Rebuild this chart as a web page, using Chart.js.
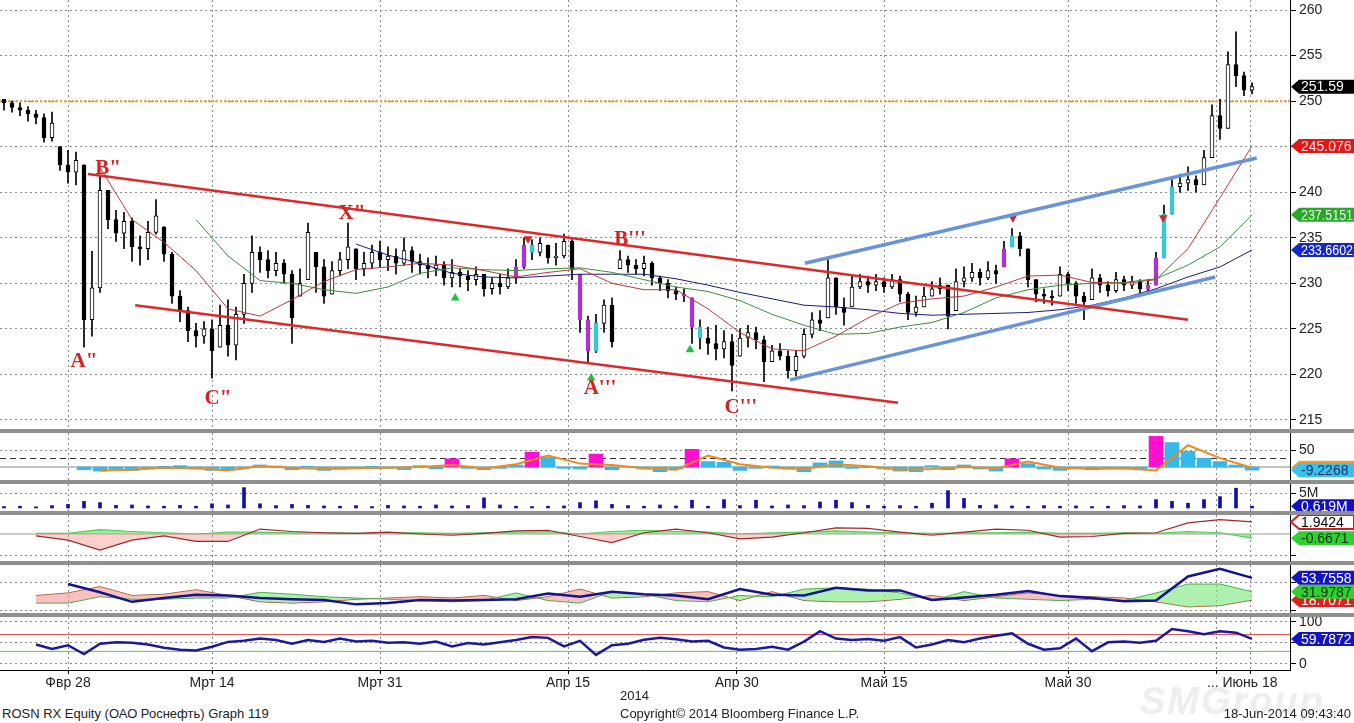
<!DOCTYPE html>
<html>
<head>
<meta charset="utf-8">
<script src="https://cdn.jsdelivr.net/npm/chart.js@4.4.1/dist/chart.umd.min.js"></script>
<style>
  body { margin: 0; background: #fff; width: 1354px; height: 723px; overflow: hidden; position: relative;
         font-family: "Liberation Sans", Arial, sans-serif; }
  .pane { position: absolute; left: 0; width: 1354px; }
  .sep { position: absolute; left: 0; width: 1354px; height: 4px; background: #8f8f8f; }
  .txt { position: absolute; font-size: 13px; color: #222; white-space: nowrap; }
  .wm { position: absolute; left: 1140px; top: 680px; font: italic bold 38px "Liberation Sans", Arial, sans-serif;
        color: #eeeeee; letter-spacing: 2px; }
</style>
</head>
<body>
<div class="pane" style="top:0;height:429px"><canvas id="cMain"></canvas></div>
<div class="sep" style="top:429px"></div>
<div class="pane" style="top:433px;height:47px"><canvas id="cOsc"></canvas></div>
<div class="sep" style="top:480px"></div>
<div class="pane" style="top:484px;height:27px"><canvas id="cVol"></canvas></div>
<div class="sep" style="top:511px"></div>
<div class="pane" style="top:515px;height:46px"><canvas id="cMacd"></canvas></div>
<div class="sep" style="top:561px"></div>
<div class="pane" style="top:565px;height:48px"><canvas id="cDmi"></canvas></div>
<div class="sep" style="top:613px"></div>
<div class="pane" style="top:617px;height:83px"><canvas id="cRsi"></canvas></div>
<div class="wm">SMGroup</div>
<div class="txt" style="left:620px;top:688px">2014</div>
<div class="txt" style="left:2px;top:706px">ROSN RX Equity (ОАО Роснефть) Graph 119</div>
<div class="txt" style="left:620px;top:706px">Copyright© 2014 Bloomberg Finance L.P.</div>
<div class="txt" style="right:3px;top:706px">18-Jun-2014 09:43:40</div>
<script>
const FONT = '"Liberation Sans", Arial, sans-serif';
Chart.defaults.font.family = FONT;
Chart.defaults.color = '#222';

// time axis: one unit = one bar
const xTickIdx = [8, 26, 47, 70.5, 91.6, 110, 133, 151.6, 155.75];
const xTickLabels = ['Фвр 28', 'Мрт 14', 'Мрт 31', 'Апр 15', 'Апр 30', 'Май 15', 'Май 30', '',
  '... Июнь 18\u00a0\u00a0\u00a0\u00a0'];

// price bars
const closes = [
  249.8, 249.3, 249.0, 248.6, 248.2, 246.0, 247.6, 243.0, 242.2, 243.5,
  226.0, 229.5, 240.2, 237.0, 235.5, 236.8, 234.0, 233.8, 235.6, 237.4,
  233.2, 228.6, 227.0, 224.8, 224.2, 225.0, 222.6, 225.4, 223.2, 226.6,
  230.0, 233.4, 232.6, 231.4, 232.2, 231.0, 226.2, 230.0, 235.6, 231.8,
  228.6, 231.4, 232.6, 234.0, 231.6, 232.2, 233.4, 232.6, 233.0, 232.2,
  233.6, 232.4, 232.0, 231.6, 232.0, 230.6, 231.2, 230.8, 230.4, 231.0,
  229.4, 230.0, 229.6, 230.6, 231.8, 234.2, 233.4, 234.4, 232.8, 233.0,
  234.6, 231.6, 226.0, 222.6, 225.6, 227.6, 223.6, 232.6, 232.0, 231.6,
  232.2, 230.6, 230.0, 229.2, 228.8, 228.6, 225.2, 224.0, 223.4, 222.8,
  223.6, 221.0, 224.0, 224.6, 223.8, 221.4, 222.6, 222.0, 220.4, 222.0,
  224.4, 226.0, 225.6, 230.6, 227.4, 226.8, 229.6, 230.2, 229.8, 230.2,
  229.6, 230.4, 228.8, 226.8, 227.4, 228.6, 229.4, 229.8, 226.4, 230.2,
  230.6, 231.2, 230.6, 231.4, 231.0, 233.8, 235.2, 233.8, 230.4, 228.8,
  228.6, 228.4, 231.0, 230.0, 228.6, 228.0, 230.6, 229.8, 229.2, 230.4,
  229.8, 230.2, 229.4, 229.8, 232.8, 237.6, 240.6, 241.0, 241.4, 240.8,
  243.8, 248.4, 247.0, 254.0, 252.8, 251.2, 251.59
];
const highs = [
  250.2, 250.0, 249.8, 249.4, 249.0, 248.6, 248.8, 245.0, 244.6, 244.4,
  243.0, 233.5, 241.8, 240.2, 238.0, 237.8, 237.2, 235.2, 236.8, 239.2,
  236.2, 233.4, 229.2, 227.4, 225.6, 225.8, 226.0, 227.6, 228.2, 227.4,
  231.0, 235.2, 234.0, 233.6, 233.4, 232.6, 231.4, 231.6, 236.6, 233.4,
  232.6, 232.4, 233.4, 236.6, 233.8, 233.4, 234.2, 234.6, 234.0, 233.8,
  235.0, 234.0, 233.2, 232.8, 233.0, 232.4, 232.6, 231.6, 231.4, 231.8,
  231.0, 230.6, 231.0, 231.6, 232.6, 235.0, 234.8, 235.0, 234.2, 234.4,
  235.4, 234.8, 231.0, 226.4, 226.6, 228.2, 228.4, 233.6, 233.0, 232.6,
  233.0, 232.4, 230.8, 230.4, 229.6, 229.4, 228.4, 226.0, 225.2, 225.4,
  224.8, 224.4, 225.0, 225.4, 225.2, 224.2, 223.2, 223.4, 222.6, 222.6,
  225.0, 226.8, 227.0, 232.6, 230.6, 228.4, 230.8, 231.0, 230.8, 231.0,
  230.6, 231.0, 230.8, 229.0, 228.6, 229.6, 230.2, 230.6, 229.8, 231.6,
  231.8, 232.2, 231.6, 232.4, 232.0, 234.6, 236.0, 235.6, 233.8, 230.4,
  229.4, 229.2, 231.8, 231.2, 230.2, 229.0, 231.6, 231.0, 230.2, 231.2,
  230.8, 230.8, 230.4, 230.4, 233.4, 238.6, 241.4, 242.0, 242.8, 241.8,
  244.6, 249.6, 250.2, 255.4, 257.6, 253.2, 252.0
];
const lows = [
  249.0, 248.8, 248.4, 247.8, 247.5, 245.5, 245.6, 242.4, 241.0, 240.8,
  223.0, 224.2, 229.0, 236.0, 234.6, 233.8, 232.4, 232.0, 232.6, 235.4,
  232.4, 227.8, 225.8, 223.6, 223.0, 223.4, 219.6, 223.0, 222.0, 221.6,
  225.6, 229.0, 231.2, 230.6, 230.8, 230.0, 223.4, 228.6, 230.4, 229.0,
  227.8, 228.8, 230.8, 231.6, 230.4, 230.8, 231.6, 231.8, 231.4, 231.0,
  232.0, 231.2, 231.0, 230.6, 230.8, 229.8, 229.6, 229.6, 229.2, 229.8,
  228.6, 228.8, 228.8, 229.4, 230.0, 231.6, 232.6, 233.0, 232.2, 232.0,
  232.8, 230.4, 224.6, 221.2, 222.4, 224.6, 223.0, 231.6, 231.2, 231.0,
  230.8, 229.8, 229.2, 228.4, 228.2, 228.0, 223.4, 222.8, 222.2, 221.6,
  221.8, 218.2, 222.0, 223.0, 222.8, 219.2, 221.4, 221.6, 219.6, 219.8,
  221.8, 224.0, 224.8, 226.2, 226.6, 225.4, 227.4, 229.4, 229.0, 229.2,
  229.0, 229.4, 228.0, 226.0, 226.4, 227.4, 228.6, 228.8, 225.0, 227.0,
  229.6, 230.2, 229.8, 230.4, 230.0, 231.8, 234.0, 233.0, 229.6, 228.0,
  227.8, 227.6, 228.6, 229.2, 227.8, 226.0, 228.2, 229.0, 228.6, 229.0,
  229.2, 229.4, 228.8, 229.2, 229.8, 232.8, 237.6, 240.0, 240.2, 240.0,
  240.8, 243.8, 245.8, 247.0, 251.6, 250.6, 250.8
];
const purpleBars = [64, 65, 72, 73, 85, 86, 125, 143, 144];
const cyanBars = [66, 74, 87, 126, 145, 146];

// moving averages, one value every 4 bars
const MA_STEP = 4;
const maRed = [null, null, null, 242.7, 237.0, 234.5, 231.4, 227.2, 226.4, 228.2,
  230.2, 231.5, 231.8, 232.2, 232.0, 231.4, 230.7, 231.2, 231.6, 230.0,
  229.3, 229.3, 227.2, 224.6, 222.8, 222.6, 224.2, 226.2, 227.8, 228.3,
  228.6, 229.6, 230.8, 230.9, 230.1, 230.0, 230.4, 233.8, 239.4, 245.076];
const maGreen = [null, null, null, null, null, null, 237.0, 233.0, 230.3, 230.0,
  229.3, 228.9, 229.6, 231.1, 231.7, 231.5, 231.4, 231.6, 231.7, 231.2,
  230.4, 229.6, 229.1, 228.1, 226.6, 225.4, 224.4, 224.5, 225.2, 225.7,
  226.8, 228.4, 229.3, 229.8, 230.0, 230.1, 230.5, 232.0, 234.0, 237.5151];
const maBlue = [null, null, null, null, null, null, null, null, null, null,
  null, 234.3, 233.1, 232.2, 231.1, 230.7, 230.6, 230.8, 231.0, 231.0,
  231.0, 230.5, 229.8, 229.0, 228.3, 227.6, 227.4, 227.1, 226.7, 226.5,
  226.6, 226.7, 226.8, 227.1, 227.6, 228.4, 229.4, 230.7, 231.8, 233.6602];

// hand-drawn channel lines [bar, price]
const channelTop = [[10.5, 242.0], [148, 226.0]];
const channelBottom = [[16.4, 227.6], [111.75, 216.9]];
const riseTop = [[100.1, 232.2], [156.6, 243.75]];
const riseBottom = [[98.25, 219.4], [151.4, 230.7]];
const resistance = 250;

// wave labels
const waveText = ['A"', 'B"', 'C"', 'X"', "A'''", "B'''", "C'''"];
const waveBar = [10, 13, 26.75, 43.5, 74.5, 78.25, 92.1];
const wavePrice = [221.4, 242.6, 217.4, 237.7, 218.5, 234.8, 216.4];

// signal markers [bar, price]
const sellMarks = [[65.5, 234.9], [126.1, 237.2], [144.9, 237.2]];
const buyMarks = [[56.4, 228.4], [73.4, 219.6], [85.75, 222.7]];

// oscillator panel, every 2 bars (histogram) / 4 bars (signal)
const OSC_STEP = 2;
const oscHist = [null, null, null, null, null, -8, -12, -6, -10, -4,
  2, 4, -6, -10, -8, -2, 6, 3, -8, 2,
  -10, -6, -3, 2, -4, -8, 4, -5, 24, -4,
  -8, -4, 6, 44, 28, -4, -6, 38, -8, 2,
  -6, -14, -6, 52, 16, 14, -10, -4, 3, -6,
  -14, 12, 18, -4, -2, -6, -12, -14, 4, -8,
  6, -6, -12, 24, 10, -6, -10, -4, -8, -2,
  -6, -8, 90, 72, 46, 26, 16, 6, -9.2268];
const oscSpikes = [28, 33, 37, 43, 63, 72];
const oscSignal = [null, null, null, -10, -8, -2, -4, -10, 2, -2,
  -6, -4, -2, 0, 6, -4, 8, 34, 10, 6,
  -4, -8, 34, 8, -2, -6, 8, 2, -8, -6,
  0, -4, 16, -2, -6, -4, -10, 64, 26, -2];
const oscLevel = 25;

// volume, millions, every 2 bars
const volume = [0.5, 0.6, 0.4, 0.8, 1.2, 2.2, 1.8, 0.9, 1.0, 0.7,
  0.6, 0.9, 0.6, 1.4, 1.0, 6.8, 1.4, 0.8, 1.2, 0.9,
  0.7, 0.6, 0.8, 0.5, 0.9, 0.7, 0.6, 1.0, 0.7, 0.8,
  3.4, 1.0, 0.6, 0.5, 0.6, 0.7, 1.8, 2.4, 1.2, 0.8,
  0.6, 1.0, 0.7, 2.6, 0.6, 2.8, 0.8, 2.6, 0.7, 1.0,
  0.8, 2.0, 2.6, 1.8, 0.9, 0.6, 0.8, 0.6, 1.6, 5.8,
  3.2, 0.9, 1.0, 0.7, 0.6, 0.8, 0.6, 0.7, 0.5, 0.6,
  0.8, 0.7, 2.8, 2.2, 1.6, 2.8, 3.8, 6.6, 0.619];

// MACD panel, every 4 bars
const macdLine = [null, -0.3, -1.0, -2.6, -1.0, -0.3, -1.2, -1.2, 0.8, 0.4,
  0.2, 0.1, 0.3, 0.0, -0.2, 0.1, 0.5, 0.6, -0.4, -1.4,
  0.2, 0.8, 0.2, -0.8, -0.5, 0.2, 1.0, 0.9, 0.3, -0.2,
  0.3, 0.8, 0.6, -0.5, -0.4, 0.1, 0.2, 1.8, 2.3, 1.9424];
const macdSignal = [null, 0.1, 0.1, 0.7, 0.4, 0.2, 0.0, 0.3, 0.3, 0.2,
  0.2, 0.1, 0.2, 0.2, 0.1, 0.2, 0.3, 0.4, 0.0, 0.4,
  0.6, 0.4, 0.3, 0.0, 0.2, 0.3, 0.5, 0.3, 0.2, 0.1,
  0.2, 0.2, 0.3, 0.1, 0.1, 0.2, 0.1, 0.4, 0.2, -0.6671];

// DMI panel, every 4 bars
const adx = [null, null, 44, 31, 16, 22, 27, 26, 22, 20,
  19, 12, 14, 19, 18, 19, 20, 29, 24, 32,
  28, 26, 20, 36, 27, 26, 38, 34, 34, 19,
  23, 27, 33, 25, 22, 17, 18, 56, 68, 53.7558];
const diPlus = [null, 14, 14, 24, 20, 20, 22, 22, 31, 28,
  24, 22, 20, 18, 16, 18, 30, 18, 14, 32,
  28, 18, 16, 26, 24, 36, 38, 36, 30, 18,
  32, 22, 20, 18, 20, 18, 30, 44, 44, 31.9787];
const diMinus = [null, 26, 30, 40, 26, 28, 35, 26, 16, 14,
  16, 20, 22, 24, 22, 26, 18, 24, 36, 22,
  24, 30, 32, 18, 32, 18, 16, 16, 20, 26,
  18, 24, 30, 26, 24, 22, 16, 8, 10, 18.7071];

// RSI panel, every 2 bars
const rsi = [null, null, 46.4, 35.8, 44.6, 23.5, 48.2, 51.7, 50.8, 46.4,
  38.5, 34.1, 32.3, 41.1, 52.6, 55.2, 60.5, 57, 48.2, 57,
  52.6, 60.5, 53.4, 55.2, 50.8, 51.7, 48.2, 53.4, 42, 49.9,
  46.4, 51.7, 57, 64, 62.2, 42, 55.2, 21.8, 44.6, 48.2,
  57.8, 62.2, 58.7, 53.4, 55.2, 39.4, 34.1, 35.8, 41.1, 34.1,
  53.4, 78, 60.5, 57, 59.6, 55.2, 64, 39.4, 46.4, 57,
  51.7, 60.5, 67.5, 72.8, 48.2, 34.1, 37.6, 60.5, 30.6, 51.7,
  53.4, 50.8, 55.2, 83.4, 78, 71, 78, 74.6, 59.7872];
const rsiHigh = 70, rsiLow = 30;

const X_MIN = -0.5, X_MAX = 160.75;
const last = a => a[a.length - 1];
const pts = (arr, step) => arr.map((v, k) => ({ x: k * step, y: v }));
const pairs = arr => arr.map(p => ({ x: p[0], y: p[1] }));
const opens = closes.map((c, i) => {
  const p = i ? closes[i - 1] : highs[0];
  return Math.min(Math.max(p, lows[i]), highs[i]);
});

function hline(v, color, width, dash) {
  return { type: 'line', data: [{ x: X_MIN, y: v }, { x: X_MAX, y: v }], borderColor: color,
    borderWidth: width, borderDash: dash || [], pointRadius: 0, fill: false };
}
function line(data, color, width, extra) {
  return Object.assign({ type: 'line', data, borderColor: color, borderWidth: width,
    pointRadius: 0, fill: false, tension: 0 }, extra || {});
}

function xScale(show) {
  return {
    type: 'linear', min: X_MIN, max: X_MAX, offset: false,
    afterBuildTicks: s => { s.ticks = xTickIdx.map(v => ({ value: v })); },
    afterFit: s => { s.height = show ? 30 : 0; s.paddingLeft = 0; s.paddingRight = 0; },
    grid: { color: '#8a8a8a', lineWidth: 1, offset: false, drawTicks: show, tickLength: 4, tickColor: '#000' },
    border: { display: show, color: '#000', dash: [2, 3] },
    ticks: { display: show, autoSkip: false, maxRotation: 0, padding: 1, color: '#222',
      font: { size: 14 }, callback: (v, i) => xTickLabels[i] }
  };
}
function yScale(min, max, tickVals, label) {
  return {
    type: 'linear', position: 'right', min, max,
    afterBuildTicks: s => { s.ticks = tickVals.map(v => ({ value: v })); },
    afterFit: s => { s.width = 64; s.paddingTop = 0; s.paddingBottom = 0; },
    grid: { color: '#8a8a8a', lineWidth: 1, tickLength: 6, tickColor: '#000' },
    border: { display: true, color: '#000', width: 1, dash: [2, 3] },
    ticks: { padding: 3, color: '#222', font: { size: 14 }, callback: label }
  };
}

function tagPlugin(tags) {
  return {
    id: 'tags',
    afterDraw(chart) {
      const ctx = chart.ctx, ys = chart.scales.y;
      const x0 = chart.chartArea.right + 1, x1 = chart.width;
      tags.forEach(t => {
        const cy = ys.getPixelForValue(t.value);
        ctx.save();
        ctx.beginPath();
        ctx.moveTo(x0, cy);
        ctx.lineTo(x0 + 8, cy - 7);
        ctx.lineTo(x1, cy - 7);
        ctx.lineTo(x1, cy + 7);
        ctx.lineTo(x0 + 8, cy + 7);
        ctx.closePath();
        ctx.fillStyle = t.bg;
        ctx.fill();
        if (t.edge) { ctx.strokeStyle = t.edge; ctx.lineWidth = 2; ctx.stroke(); }
        ctx.fillStyle = t.fg;
        ctx.font = '14px ' + FONT;
        ctx.textBaseline = 'middle';
        const txt = t.text || String(t.value);
        const room = x1 - x0 - 11;
        const w = ctx.measureText(txt).width;
        ctx.translate(x0 + 10, cy + 1);
        if (w > room) ctx.scale(room / w, 1);
        ctx.fillText(txt, 0, 0);
        ctx.restore();
      });
    }
  };
}

const wavePlugin = {
  id: 'waves',
  afterDatasetsDraw(chart) {
    const ctx = chart.ctx, xs = chart.scales.x, ys = chart.scales.y;
    ctx.save();
    ctx.font = 'bold 21px "Liberation Serif", "Times New Roman", serif';
    ctx.fillStyle = '#d42222';
    ctx.textAlign = 'center';
    ctx.textBaseline = 'middle';
    waveText.forEach((t, i) => ctx.fillText(t, xs.getPixelForValue(waveBar[i]), ys.getPixelForValue(wavePrice[i])));
    ctx.restore();
  }
};

const base = { responsive: true, maintainAspectRatio: false, animation: false,
  layout: { padding: 0, autoPadding: false },
  plugins: { legend: { display: false }, tooltip: { enabled: false } } };

// main price panel
new Chart(document.getElementById('cMain'), {
  type: 'bar',
  data: { datasets: [
    line(pairs(channelTop), '#dc2a2a', 2.5),
    line(pairs(channelBottom), '#dc2a2a', 2.5),
    line(pairs(riseTop), '#6a94d8', 3.5),
    line(pairs(riseBottom), '#6a94d8', 3.5),
    line(pairs(sellMarks), '#e02020', 0, { showLine: false, pointStyle: 'triangle', pointRotation: 180,
      pointRadius: 5, pointBackgroundColor: '#e02020', pointBorderWidth: 0 }),
    line(pairs(buyMarks), '#22c040', 0, { showLine: false, pointStyle: 'triangle',
      pointRadius: 5, pointBackgroundColor: '#22c040', pointBorderWidth: 0 }),
    line(pts(maRed, MA_STEP), '#b83a3a', 1),
    line(pts(maGreen, MA_STEP), '#3c8c3c', 1),
    line(pts(maBlue, MA_STEP), '#1c1c78', 1),
    {
      type: 'bar', grouped: false, barThickness: 4, borderWidth: 1, borderSkipped: false,
      data: closes.map((c, i) => ({ x: i, y: [opens[i], c] })),
      backgroundColor: ctx => {
        const i = ctx.dataIndex;
        if (purpleBars.includes(i)) return '#b030d0';
        if (cyanBars.includes(i)) return '#30d0d8';
        return closes[i] >= opens[i] ? '#ffffff' : '#000000';
      },
      borderColor: ctx => {
        const i = ctx.dataIndex;
        if (purpleBars.includes(i)) return '#b030d0';
        if (cyanBars.includes(i)) return '#30c0c8';
        return '#000';
      }
    },
    {
      type: 'bar', grouped: false, barThickness: 1, borderWidth: 0, backgroundColor: '#000',
      data: closes.map((c, i) => ({ x: i, y: [lows[i], highs[i]] }))
    },
    hline(resistance, '#f0a050', 2.5, [2, 2])
  ] },
  options: Object.assign({}, base, {
    scales: {
      x: xScale(false),
      y: yScale(214.01, 261.1, [215, 220, 225, 230, 235, 240, 245, 250, 255, 260], v => String(v))
    }
  }),
  plugins: [wavePlugin, tagPlugin([
    { value: last(closes), bg: '#000', fg: '#fff' },
    { value: last(maRed), bg: '#e01818', fg: '#ffe0e0' },
    { value: last(maGreen), bg: '#28a828', fg: '#e8ffe8' },
    { value: last(maBlue), bg: '#1428c8', fg: '#ffffff' }
  ])]
});

// oscillator panel
new Chart(document.getElementById('cOsc'), {
  type: 'bar',
  data: { datasets: [
    line(pts(oscSignal, MA_STEP), '#f08a1c', 2),
    {
      type: 'bar', grouped: false, barThickness: 14, borderWidth: 0,
      data: pts(oscHist, OSC_STEP),
      backgroundColor: ctx => oscSpikes.includes(ctx.dataIndex) ? '#ff10d0' : '#38b8e8'
    },
    hline(oscLevel, '#333', 1, [6, 4]),
    hline(0, '#888', 1)
  ] },
  options: Object.assign({}, base, {
    scales: { x: xScale(false), y: yScale(-38.2, 100, [50], v => String(v)) }
  }),
  plugins: [tagPlugin([
    { value: last(oscSignal), bg: '#f0a030', fg: '#f0a030' },
    { value: last(oscHist), bg: '#38c0f0', fg: '#1a3050' }
  ])]
});

// volume panel
new Chart(document.getElementById('cVol'), {
  type: 'bar',
  data: { datasets: [{
    type: 'bar', grouped: false, barThickness: 3, borderWidth: 0, backgroundColor: '#1010a8',
    data: pts(volume, OSC_STEP)
  }] },
  options: Object.assign({}, base, {
    scales: { x: xScale(false), y: yScale(-1, 8, [5], v => v + 'M') }
  }),
  plugins: [tagPlugin([{ value: last(volume), text: last(volume) + 'M', bg: '#1010c8', fg: '#fff' }])]
});

// MACD panel
new Chart(document.getElementById('cMacd'), {
  type: 'line',
  data: { datasets: [
    line(pts(macdLine, MA_STEP), '#a02828', 1.2, {
      fill: { target: 'origin', above: 'rgba(0,0,0,0)', below: 'rgba(250,150,150,0.45)' } }),
    line(pts(macdSignal, MA_STEP), '#55cc55', 1.2, {
      fill: { target: 'origin', above: 'rgba(90,225,90,0.6)', below: 'rgba(90,225,90,0.6)' } }),
    hline(0, '#999', 1)
  ] },
  options: Object.assign({}, base, {
    scales: { x: xScale(false), y: yScale(-4.35, 3.06, [-3.5], () => '') }
  }),
  plugins: [tagPlugin([
    { value: last(macdLine), bg: '#fff', fg: '#000', edge: '#d02020' },
    { value: last(macdSignal), bg: '#30d030', fg: '#0a300a' }
  ])]
});

// DMI panel
new Chart(document.getElementById('cDmi'), {
  type: 'line',
  data: { datasets: [
    line(pts(adx, MA_STEP), '#14148c', 2.5),
    line(pts(diPlus, MA_STEP), '#4caf50', 1, {
      fill: { target: 2, above: 'rgba(120,230,120,0.6)', below: 'rgba(245,150,150,0.6)' } }),
    line(pts(diMinus, MA_STEP), '#a0522d', 1)
  ] },
  options: Object.assign({}, base, {
    scales: { x: xScale(false), y: yScale(-1.6, 74, [47, 2], () => '') }
  }),
  plugins: [tagPlugin([
    { value: last(diMinus), bg: '#e02020', fg: '#fff' },
    { value: last(diPlus), bg: '#30d030', fg: '#0a300a' },
    { value: last(adx), bg: '#1414c0', fg: '#fff' }
  ])]
});

// RSI panel with time axis
new Chart(document.getElementById('cRsi'), {
  type: 'line',
  data: { datasets: [
    line(pts(rsi, OSC_STEP), '#1a1a9a', 2.5),
    hline(rsiHigh, '#e04848', 1),
    hline(rsiLow, '#50c850', 1)
  ] },
  options: Object.assign({}, base, {
    scales: { x: xScale(true), y: yScale(-14.3, 111.9, [100, 50, 0], v => v === 50 ? '' : String(v)) }
  }),
  plugins: [tagPlugin([{ value: last(rsi), bg: '#1414c0', fg: '#fff' }])]
});
</script>
</body>
</html>
